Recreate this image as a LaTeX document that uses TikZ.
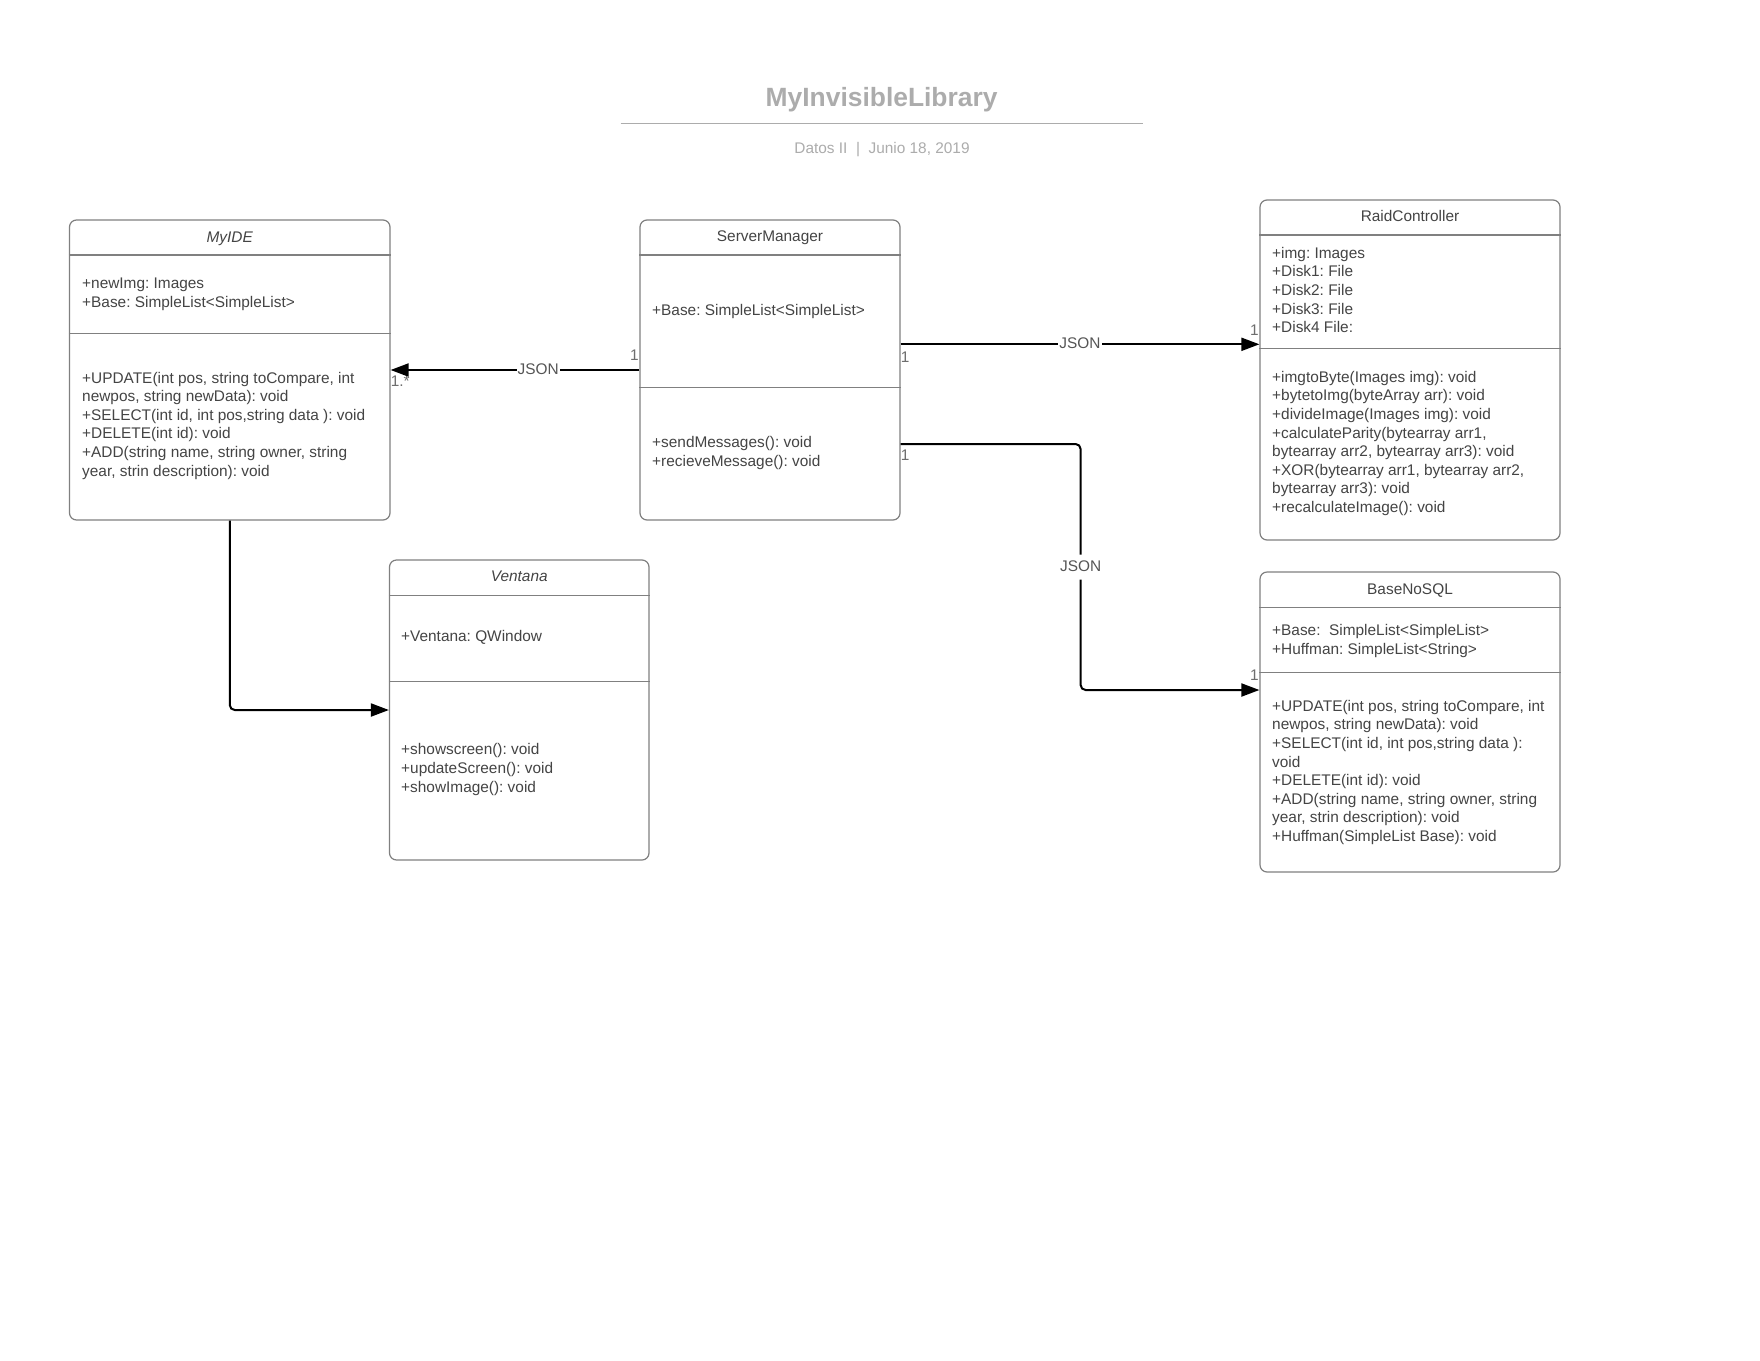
\documentclass[tikz,border=0pt]{standalone}
\usepackage{fontspec}
\setmainfont{Liberation Sans}
\usetikzlibrary{arrows.meta}
\frenchspacing

\definecolor{inkgray}{RGB}{68,68,68}
\definecolor{boxline}{RGB}{128,128,128}
\definecolor{multgray}{RGB}{110,110,110}
\definecolor{taggray}{RGB}{85,85,85}
\definecolor{headgray}{RGB}{172,172,172}

\begin{document}
% Member blocks are anchored on the baseline of their LAST line
% (first baseline + (lines-1) * 18.6).
\begin{tikzpicture}[x=1pt,y=-1pt,
  classbox/.style={draw=boxline, line width=1.2pt, rounded corners=7pt, inner sep=0pt},
  sep/.style={draw=boxline, line width=1.2pt},
  bodyfont/.style={font=\fontsize{15.4}{18.6}\selectfont},
  italfont/.style={font=\fontsize{15.4}{18.6}\selectfont\itshape},
  member/.style={bodyfont, text=inkgray, align=left, inner sep=0pt, anchor=base west},
  cname/.style={text=inkgray, inner sep=0pt, anchor=base},
  assoc/.style={draw=black, line width=2pt, -{Triangle[length=18pt,width=13pt]}},
  mult/.style={bodyfont, text=multgray, inner sep=0pt},
  tag/.style={bodyfont, text=taggray, fill=white, inner xsep=1pt, inner ysep=5pt,
              text height=11.5pt, text depth=3.5pt}
]
\useasboundingbox[fill=white] (0,0) rectangle (1760,1360);

% ---------- heading ----------
\node[font=\bfseries\fontsize{26.4}{30}\selectfont, text=headgray, inner sep=0pt, anchor=base]
  (title) at (881.6,106) {MyInvisibleLibrary};
\draw[headgray, line width=1.5pt] (620.7,123.3) -- (1142.6,123.3);
\node[bodyfont, text=headgray, inner sep=0pt, anchor=base]
  (subtitle) at (882,153.5) {Datos II \ | \ Junio 18, 2019};

% ---------- class boxes ----------
\node[classbox, minimum width=320.5pt, minimum height=300pt] (myide) at (229.75,370) {};
\node[classbox, minimum width=260pt,   minimum height=300pt] (sm)    at (770,370)    {};
\node[classbox, minimum width=300pt,   minimum height=340pt] (rc)    at (1410,370)   {};
\node[classbox, minimum width=300pt,   minimum height=300pt] (bn)    at (1410,722)   {};
\node[classbox, minimum width=259.5pt, minimum height=300pt] (ven)   at (519.25,710) {};

% compartment separators
\draw[sep] (myide.west |- 0,255)   -- (myide.east |- 0,255);
\draw[sep] (myide.west |- 0,333.3) -- (myide.east |- 0,333.3);
\draw[sep] (sm.west |- 0,255)      -- (sm.east |- 0,255);
\draw[sep] (sm.west |- 0,387.3)    -- (sm.east |- 0,387.3);
\draw[sep] (rc.west |- 0,235)      -- (rc.east |- 0,235);
\draw[sep] (rc.west |- 0,348.3)    -- (rc.east |- 0,348.3);
\draw[sep] (bn.west |- 0,607.3)    -- (bn.east |- 0,607.3);
\draw[sep] (bn.west |- 0,672.3)    -- (bn.east |- 0,672.3);
\draw[sep] (ven.west |- 0,595.7)   -- (ven.east |- 0,595.7);
\draw[sep] (ven.west |- 0,681.7)   -- (ven.east |- 0,681.7);

% class names
\node[cname, italfont] (myideName) at (229.75,242.2) {MyIDE};
\node[cname, bodyfont] (smName)  at (770,241.5)   {ServerManager};
\node[cname, bodyfont] (rcName)  at (1410,221.5)  {RaidController};
\node[cname, bodyfont] (bnName)  at (1410,594.5)  {BaseNoSQL};
\node[cname, italfont] (venName) at (519.25,581.2) {Ventana};

% members
\node[member] (myideAttr) at (82,307.4)
  {+newImg: Images\\+Base: SimpleList<SimpleList>};
\node[member] (myideOps) at (82,476)
  {+UPDATE(int pos, string toCompare, int\\newpos, string newData): void\\+SELECT(int id, int pos,string data ): void\\+DELETE(int id): void\\+ADD(string name, string owner, string\\year, strin description): void};

\node[member] (smAttr) at (652,315.5) {+Base: SimpleList<SimpleList>};
\node[member] (smOps)  at (652,466.4) {+sendMessages(): void\\+recieveMessage(): void};

\node[member] (rcAttr) at (1272,332.6)
  {+img: Images\\+Disk1: File\\+Disk2: File\\+Disk3: File\\+Disk4 File:};
\node[member] (rcOps) at (1272,512.4)
  {+imgtoByte(Images img): void\\+bytetoImg(byteArray arr): void\\+divideImage(Images img): void\\+calculateParity(bytearray arr1,\\bytearray arr2, bytearray arr3): void\\+XOR(bytearray arr1, bytearray arr2,\\bytearray arr3): void\\+recalculateImage(): void};

\node[member] (bnAttr) at (1272,654.1)
  {+Base: \ SimpleList<SimpleList>\\+Huffman: SimpleList<String>};
\node[member] (bnOps) at (1272,841.5)
  {+UPDATE(int pos, string toCompare, int\\newpos, string newData): void\\+SELECT(int id, int pos,string data ):\\void\\+DELETE(int id): void\\+ADD(string name, string owner, string\\year, strin description): void\\+Huffman(SimpleList Base): void};

\node[member] (venAttr) at (401,641.5) {+Ventana: QWindow};
\node[member] (venOps)  at (401,792)
  {+showscreen(): void\\+updateScreen(): void\\+showImage(): void};

% ---------- associations ----------
\coordinate (smR1) at ([shift={(0,-25.7)}]sm.east);
\coordinate (rcIn) at (smR1 -| rc.west);
\coordinate (smR2) at ([shift={(0,74)}]sm.east);
\coordinate (bnIn) at ([shift={(0,-32)}]bn.west);

\node[mult] (m1) at ([shift={(-5,-15)}]sm.west) {1};
\node[mult] (m2) at ([shift={(9.6,11)}]myide.east) {1.*};
\node[mult] (m3) at ([shift={(4.5,12.4)}]smR1) {1};
\node[mult] (m4) at ([shift={(-5,-14.3)}]rcIn) {1};
\node[mult] (m5) at ([shift={(4.5,11)}]smR2) {1};
\node[mult] (m6) at ([shift={(-5,-15)}]bnIn) {1};

\draw[assoc] (sm.west) -- node[tag, pos=0.407] {JSON} (myide.east);
\draw[assoc] (smR1) -- node[tag] {JSON} (rcIn);
\draw[assoc, rounded corners=5pt] (smR2) -- ++(180,0) |- node[tag, pos=0.25] {JSON} (bnIn);
\draw[assoc, rounded corners=5pt] (myide.south) |- (ven.west);

\end{tikzpicture}
\end{document}
